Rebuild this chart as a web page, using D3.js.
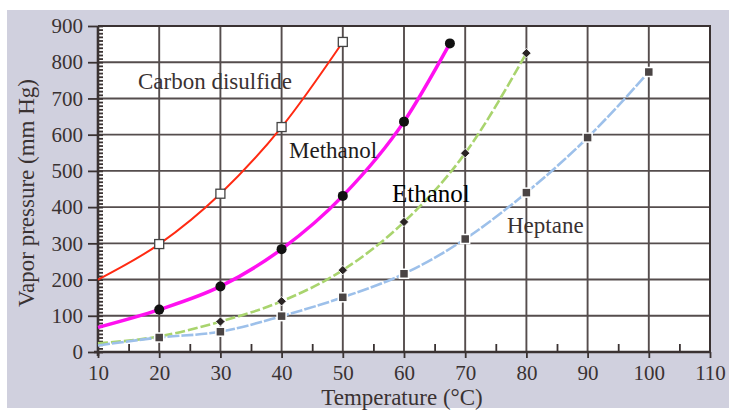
<!DOCTYPE html>
<html>
<head>
<meta charset="utf-8">
<script src="https://cdn.jsdelivr.net/npm/d3@7"></script>
<style>
  body { margin: 0; background: #fff; }
  svg { display: block; }
  text { font-family: "Liberation Serif", "Times New Roman", serif; fill: #3a3232; }
</style>
</head>
<body>
<svg id="chart" width="729" height="411"></svg>
<script>
// values
var csTemps = [10, 20, 30, 40, 50];
var csVals = [200, 298, 437, 621, 856];
var methTemps = [10, 20, 30, 40, 50, 60, 67.5];
var methVals = [68, 117, 181, 284, 431, 636, 852];
var ethTemps = [10, 20, 30, 40, 50, 60, 70, 80];
var ethVals = [24, 43, 84, 140, 226, 359, 549, 825];
var hepTemps = [10, 20, 30, 40, 50, 60, 70, 80, 90, 100];
var hepVals = [18, 40, 56, 99, 151, 216, 312, 440, 592, 773];

var xTicks = [10, 20, 30, 40, 50, 60, 70, 80, 90, 100, 110];
var yTicks = [0, 100, 200, 300, 400, 500, 600, 700, 800, 900];
var xLabel = 'Temperature (\u00B0C)';
var yLabel = 'Vapor pressure (mm Hg)';

var svg = d3.select('#chart');
// plot box (window.top is reserved, so use pLeft etc.)
var pLeft = 98, pRight = 710, pTop = 26, pBottom = 352;

var x = d3.scaleLinear().domain([10, 110]).range([pLeft, pRight]);
var y = d3.scaleLinear().domain([0, 900]).range([pBottom, pTop]);

// grey panel
svg.append('rect').attr('x', 7).attr('y', 10).attr('width', 722).attr('height', 398)
  .attr('fill', '#d0d0de');
svg.append('rect').attr('x', pLeft).attr('y', pTop).attr('width', pRight - pLeft).attr('height', pBottom - pTop)
  .attr('fill', '#fff');

// grid
var grid = svg.append('g').attr('stroke', '#554d4d').attr('stroke-width', 1.9);
grid.selectAll('line.v').data(xTicks.slice(1)).enter().append('line')
  .attr('x1', function(d){ return x(d); }).attr('x2', function(d){ return x(d); })
  .attr('y1', pTop).attr('y2', pBottom);
grid.selectAll('line.h').data(yTicks.slice(1)).enter().append('line')
  .attr('x1', pLeft).attr('x2', pRight)
  .attr('y1', function(d){ return y(d); }).attr('y2', function(d){ return y(d); });

// y axis: major ticks outside, minor ticks inside
var yAxis = svg.append('g').attr('transform', 'translate(' + pLeft + ',0)')
  .call(d3.axisLeft(y).tickValues(yTicks).tickSize(10).tickPadding(5));
yAxis.append('g').call(d3.axisRight(y).tickValues(d3.range(0, 901, 10)).tickSize(5).tickFormat(''));
yAxis.selectAll('.domain').remove();
yAxis.append('line').attr('x1', 0).attr('x2', 0).attr('y1', pTop).attr('y2', pBottom + 4)
  .attr('stroke', '#3a3232').attr('stroke-width', 2.6);

// x axis
var xAxis = svg.append('g').attr('transform', 'translate(0,' + pBottom + ')')
  .call(d3.axisBottom(x).tickValues(xTicks).tickSize(6).tickPadding(7));
xAxis.append('g').call(d3.axisTop(x).tickValues(d3.range(15, 110, 10)).tickSize(8).tickFormat(''));
xAxis.selectAll('.domain').remove();
xAxis.append('line').attr('x1', pLeft - 4).attr('x2', pRight + 1).attr('y1', 0).attr('y2', 0)
  .attr('stroke', '#3a3232').attr('stroke-width', 2.6);

svg.selectAll('.tick line').attr('stroke', '#3a3232').attr('stroke-width', 1.8);
svg.selectAll('.tick text').attr('fill', '#3a3232')
  .style('font-family', '"Liberation Serif", serif').style('font-size', '21px');

// right/top frame
svg.append('path').attr('d', 'M' + pLeft + ',' + pTop + 'H' + pRight + 'V' + pBottom)
  .attr('fill', 'none').attr('stroke', '#3a3232').attr('stroke-width', 2);

// axis titles
svg.append('text').attr('x', (pLeft + pRight) / 2 - 2).attr('y', 405)
  .attr('text-anchor', 'middle').style('font-size', '23px').text(xLabel);
svg.append('text').attr('transform', 'translate(34,193) rotate(-90)')
  .attr('text-anchor', 'middle').style('font-size', '23px').text(yLabel);

// series
var line = d3.line()
  .x(function(d){ return x(d[0]); })
  .y(function(d){ return y(d[1]); })
  .curve(d3.curveMonotoneX);

function pairs(ts, vs){ return ts.map(function(t, i){ return [t, vs[i]]; }); }

var series = [
  {pts: pairs(csTemps, csVals), color: '#ff2a12', width: 2, dash: null, first: 1},
  {pts: pairs(methTemps, methVals), color: '#ff10f0', width: 3.5, dash: null, first: 1},
  {pts: pairs(ethTemps, ethVals), color: '#a9d46e', width: 2.6, dash: '10,3', first: 2},
  {pts: pairs(hepTemps, hepVals), color: '#9dc0ea', width: 2.6, dash: '12,2', first: 1}
];

svg.selectAll('path.series').data(series).enter().append('path')
  .attr('class', 'series')
  .attr('d', function(d){ return line(d.pts); })
  .attr('fill', 'none')
  .attr('stroke', function(d){ return d.color; })
  .attr('stroke-width', function(d){ return d.width; })
  .attr('stroke-dasharray', function(d){ return d.dash; });

// markers
svg.selectAll('rect.cs').data(series[0].pts.slice(series[0].first)).enter().append('rect')
  .attr('x', function(d){ return x(d[0]) - 4.5; }).attr('y', function(d){ return y(d[1]) - 4.5; })
  .attr('width', 9).attr('height', 9)
  .attr('fill', '#fff').attr('stroke', '#444').attr('stroke-width', 1.3);

svg.selectAll('circle.meth').data(series[1].pts.slice(series[1].first)).enter().append('circle')
  .attr('cx', function(d){ return x(d[0]); }).attr('cy', function(d){ return y(d[1]); })
  .attr('r', 5).attr('fill', '#111');

// ethanol: square turned 45 degrees
var diamond = d3.symbol().type(d3.symbolSquare).size(44);
svg.selectAll('path.eth').data(series[2].pts.slice(series[2].first)).enter().append('path')
  .attr('transform', function(d){ return 'translate(' + x(d[0]) + ',' + y(d[1]) + ') rotate(45)'; })
  .attr('d', diamond)
  .attr('fill', '#2a2424').attr('stroke', '#fff').attr('stroke-width', 0.8);

svg.selectAll('rect.hep').data(series[3].pts.slice(series[3].first)).enter().append('rect')
  .attr('x', function(d){ return x(d[0]) - 4.5; }).attr('y', function(d){ return y(d[1]) - 4.5; })
  .attr('width', 9).attr('height', 9)
  .attr('fill', '#4a4444').attr('stroke', '#fff').attr('stroke-width', 1.5);

// series labels
svg.append('text').attr('x', 138).attr('y', 89).style('font-size', '23px').text('Carbon disulfide');
svg.append('text').attr('x', 289).attr('y', 158).style('font-size', '23px').style('fill', '#221c1c').text('Methanol');
svg.append('text').attr('x', 392).attr('y', 202).style('font-size', '25px').style('fill', '#000').text('Ethanol');
svg.append('text').attr('x', 507).attr('y', 233).style('font-size', '23px').text('Heptane');
</script>
</body>
</html>
